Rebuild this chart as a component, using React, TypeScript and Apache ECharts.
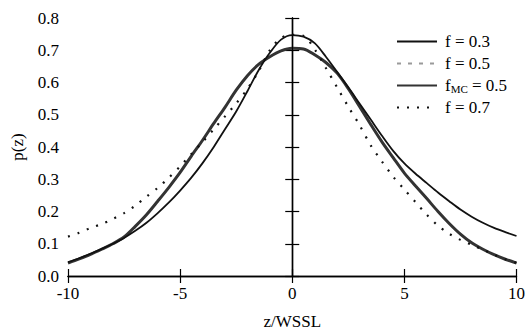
import React, { useEffect, useRef } from "react";
import * as echarts from "echarts";

const zValues = [
  -10, -9.5, -9, -8.5, -8, -7.5, -7, -6.5, -6, -5.5, -5, -4.5, -4, -3.5, -3, -2.5, -2, -1.5, -1, -0.5,
  0, 0.5, 1, 1.5, 2, 2.5, 3, 3.5, 4, 4.5, 5, 5.5, 6, 6.5, 7, 7.5, 8, 8.5, 9, 9.5, 10,
];

const f03 = [
  0.043, 0.055, 0.069, 0.084, 0.1, 0.118, 0.14, 0.165, 0.195, 0.228, 0.265, 0.305, 0.35, 0.4, 0.455, 0.51, 0.573, 0.638, 0.692, 0.733,
  0.747, 0.742, 0.722, 0.68, 0.633, 0.585, 0.535, 0.485, 0.435, 0.388, 0.349, 0.317, 0.288, 0.259, 0.232, 0.206, 0.184, 0.165, 0.149, 0.136, 0.124,
];

const f05 = [
  0.041, 0.054, 0.067, 0.082, 0.099, 0.122, 0.154, 0.19, 0.231, 0.274, 0.32, 0.371, 0.42, 0.472, 0.522, 0.575, 0.62, 0.655, 0.679, 0.697,
  0.705, 0.703, 0.686, 0.662, 0.63, 0.58, 0.525, 0.47, 0.417, 0.368, 0.32, 0.28, 0.24, 0.201, 0.164, 0.131, 0.104, 0.083, 0.066, 0.052, 0.041,
];

const fMC = [
  0.04, 0.053, 0.067, 0.083, 0.1, 0.121, 0.154, 0.19, 0.232, 0.275, 0.321, 0.372, 0.421, 0.473, 0.523, 0.576, 0.621, 0.656, 0.68, 0.698,
  0.706, 0.704, 0.686, 0.662, 0.629, 0.581, 0.526, 0.47, 0.416, 0.367, 0.319, 0.279, 0.24, 0.2, 0.163, 0.13, 0.103, 0.083, 0.066, 0.052, 0.04,
];

const f07 = [
  0.122, 0.134, 0.149, 0.161, 0.177, 0.195, 0.218, 0.246, 0.273, 0.305, 0.34, 0.378, 0.415, 0.455, 0.495, 0.535, 0.58, 0.635, 0.7, 0.738,
  0.748, 0.745, 0.703, 0.645, 0.585, 0.525, 0.468, 0.405, 0.355, 0.308, 0.268, 0.229, 0.19, 0.156, 0.131, 0.112, 0.097, 0.082, 0.066, 0.052, 0.041,
];

const seriesNames = ["f = 0.3", "f = 0.5", "fMC = 0.5", "f = 0.7"];
const xTicks = [-10, 10, 5];
const yTicks = [0, 0.8, 0.1];

const FONT = "Liberation Serif";

const pairs = (vals: number[]) => zValues.map((z, i) => [z, vals[i]]);

export default function App() {
  const ref = useRef<HTMLDivElement>(null);
  useEffect(() => {
    if (!ref.current) return;
    const chart = echarts.init(ref.current, undefined, { renderer: "svg" });
    const axisLine = { show: true, lineStyle: { color: "#000", width: 1.3 } };
    const tick = { show: true, inside: true, length: 7, lineStyle: { color: "#000", width: 1.2 } };
    chart.setOption({
      animation: false,
      backgroundColor: "#fff",
      grid: { left: 68, right: 8, top: 18, bottom: 48 },
      legend: {
        orient: "vertical",
        left: 391,
        top: 28,
        itemWidth: 40,
        itemHeight: 14,
        itemGap: 5,
        data: seriesNames,
        itemStyle: { color: "transparent", borderColor: "transparent", borderWidth: 0, opacity: 0 },
        textStyle: {
          fontFamily: FONT,
          fontSize: 17,
          color: "#000",
          padding: [0, 0, 0, 3],
          rich: {
            a: { fontFamily: FONT, fontSize: 17, color: "#000" },
            s: { fontFamily: FONT, fontSize: 11, color: "#000", verticalAlign: "bottom", padding: [6, 0, 0, 0] },
          },
        },
        formatter: (name: string) =>
          name === "fMC = 0.5" ? "{a|f}{s|MC}{a| = 0.5}" : "{a|" + name + "}",
      },
      xAxis: [
        {
          type: "value",
          min: xTicks[0],
          max: xTicks[1],
          interval: xTicks[2],
          name: "z/WSSL",
          nameLocation: "middle",
          nameGap: 37,
          nameTextStyle: { fontFamily: FONT, fontSize: 17, color: "#000" },
          axisLine,
          axisTick: tick,
          axisLabel: { fontFamily: FONT, fontSize: 17, color: "#000", margin: 9 },
          splitLine: { show: false },
        },
        {
          type: "value",
          position: "top",
          min: xTicks[0],
          max: xTicks[1],
          interval: xTicks[2],
          axisLine,
          axisTick: tick,
          axisLabel: { show: false },
          splitLine: { show: false },
        },
      ],
      yAxis: [
        {
          type: "value",
          min: yTicks[0],
          max: yTicks[1],
          interval: yTicks[2],
          name: "p(z)",
          nameLocation: "middle",
          nameGap: 42,
          nameTextStyle: { fontFamily: FONT, fontSize: 17, color: "#000" },
          axisLine,
          axisTick: tick,
          axisLabel: {
            fontFamily: FONT,
            fontSize: 17,
            color: "#000",
            margin: 9,
            formatter: (v: number) => v.toFixed(1),
          },
          splitLine: { show: false },
        },
        {
          type: "value",
          position: "right",
          min: yTicks[0],
          max: yTicks[1],
          interval: yTicks[2],
          axisLine,
          axisTick: tick,
          axisLabel: { show: false },
          splitLine: { show: false },
        },
      ],
      series: [
        {
          name: seriesNames[1],
          type: "line",
          data: pairs(f05),
          smooth: 0.3,
          showSymbol: false,
          symbol: "none",
          lineStyle: { color: "#9a9a9a", width: 1.3, type: [4, 7] },
          itemStyle: { color: "#9a9a9a" },
          z: 2,
        },
        {
          name: seriesNames[2],
          type: "line",
          data: pairs(fMC),
          smooth: 0.3,
          showSymbol: false,
          symbol: "none",
          lineStyle: { color: "#333", width: 3 },
          itemStyle: { color: "#333" },
          z: 3,
          markLine: {
            silent: true,
            symbol: "none",
            label: { show: false },
            lineStyle: { color: "#000", width: 1.2, type: "solid" },
            data: [{ xAxis: 0 }],
          },
        },
        {
          name: seriesNames[0],
          type: "line",
          data: pairs(f03),
          smooth: 0.3,
          showSymbol: false,
          symbol: "none",
          lineStyle: { color: "#111", width: 1.8 },
          itemStyle: { color: "#111" },
          z: 4,
        },
        {
          name: seriesNames[3],
          type: "line",
          data: pairs(f07),
          smooth: 0.3,
          showSymbol: false,
          symbol: "none",
          lineStyle: { color: "#111", width: 2.2, type: [2, 8] },
          itemStyle: { color: "#111" },
          z: 5,
        },
      ],
    });
    return () => chart.dispose();
  }, []);
  return (
    <div
      ref={ref}
      style={{ position: "absolute", left: 0, top: 0, width: 528, height: 335 }}
    />
  );
}
